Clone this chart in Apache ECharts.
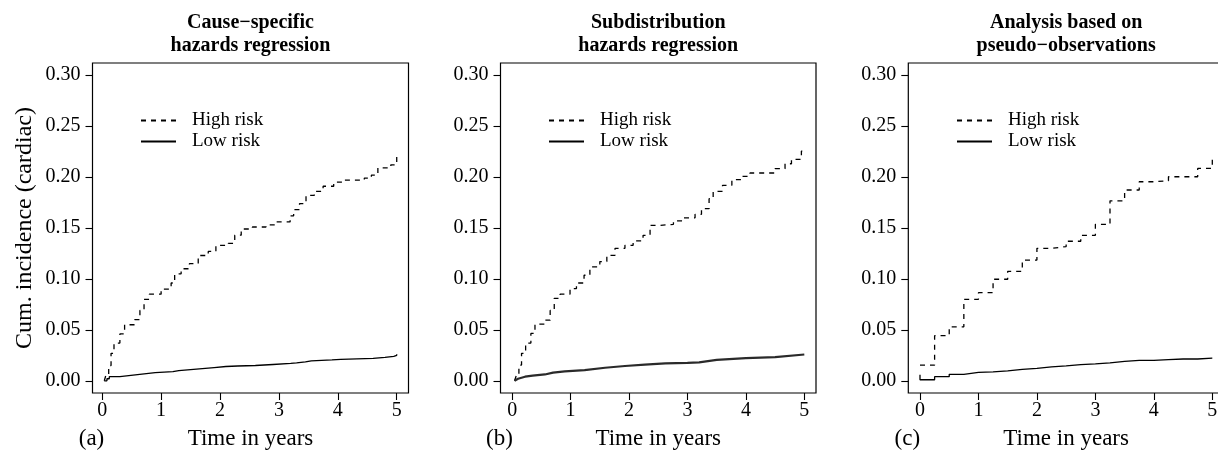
<!DOCTYPE html>
<html>
<head>
<meta charset="utf-8">
<script src="https://cdn.jsdelivr.net/npm/echarts@6/dist/echarts.min.js"></script>
<style>
html,body{margin:0;padding:0;background:#fff;}
#chart{width:1218px;height:450px;}
</style>
</head>
<body>
<div id="chart"></div>
<script>
// ---- data ----
const panelTitles = ['Cause\u2212specific\nhazards regression', 'Subdistribution\nhazards regression', 'Analysis based on\npseudo\u2212observations'];
const panelTags = ['(a)', '(b)', '(c)'];
const seriesNames = ['High risk', 'Low risk'];
const xTicks = [0, 1, 2, 3, 4, 5];
const yTicks = [0, 0.05, 0.10, 0.15, 0.20, 0.25, 0.30];
const xAxisTitle = 'Time in years';
const yAxisTitle = 'Cum. incidence (cardiac)';

// (a) cause-specific hazards regression
const csHighT = [0.035, 0.06, 0.11, 0.15, 0.20, 0.30, 0.38, 0.55, 0.64, 0.71, 0.80, 1.00, 1.17, 1.23, 1.34, 1.48, 1.63, 1.80, 1.93, 2.14, 2.25, 2.36, 2.55, 2.78, 2.93, 3.19, 3.25, 3.35, 3.46, 3.60, 3.75, 3.93, 4.10, 4.45, 4.57, 4.68, 4.90, 5.00];
const csHighV = [0.000, 0.005, 0.015, 0.027, 0.037, 0.046, 0.055, 0.060, 0.069, 0.080, 0.085, 0.090, 0.096, 0.105, 0.110, 0.115, 0.123, 0.127, 0.133, 0.135, 0.143, 0.149, 0.151, 0.153, 0.156, 0.162, 0.168, 0.174, 0.182, 0.186, 0.191, 0.195, 0.197, 0.199, 0.202, 0.209, 0.212, 0.221];
const csLowT = [0.035, 0.08, 0.12, 0.30, 0.45, 0.60, 0.75, 0.90, 1.20, 1.30, 1.50, 1.70, 1.90, 2.10, 2.30, 2.60, 2.90, 3.20, 3.30, 3.45, 3.55, 3.90, 4.05, 4.60, 4.80, 4.95, 5.00];
const csLowV = [0.000, 0.002, 0.004, 0.005, 0.006, 0.007, 0.008, 0.009, 0.010, 0.011, 0.012, 0.013, 0.014, 0.0145, 0.015, 0.016, 0.017, 0.0175, 0.0185, 0.0195, 0.0205, 0.021, 0.022, 0.023, 0.024, 0.025, 0.026];

// (b) subdistribution hazards regression
const sdHighT = [0.04, 0.07, 0.115, 0.16, 0.23, 0.32, 0.39, 0.56, 0.65, 0.72, 0.82, 0.99, 1.10, 1.23, 1.33, 1.50, 1.62, 1.76, 1.93, 2.07, 2.24, 2.36, 2.53, 2.76, 2.93, 3.13, 3.24, 3.37, 3.44, 3.60, 3.76, 3.93, 4.07, 4.50, 4.67, 4.78, 4.95, 5.00];
const sdHighV = [0.000, 0.005, 0.0154, 0.027, 0.037, 0.0465, 0.0556, 0.0595, 0.069, 0.081, 0.085, 0.0905, 0.096, 0.1036, 0.1118, 0.117, 0.1232, 0.130, 0.133, 0.1373, 0.1428, 0.1526, 0.1536, 0.157, 0.160, 0.1634, 0.169, 0.1788, 0.186, 0.1919, 0.1974, 0.2007, 0.204, 0.2082, 0.2131, 0.2174, 0.2255, 0.227];
const sdLowT = [0.04, 0.10, 0.22, 0.35, 0.56, 0.70, 0.90, 1.24, 1.59, 1.93, 2.27, 2.62, 3.00, 3.20, 3.50, 4.00, 4.50, 5.00];
const sdLowV = [0.000, 0.002, 0.004, 0.005, 0.0062, 0.008, 0.0092, 0.0105, 0.0128, 0.0145, 0.0158, 0.017, 0.0175, 0.018, 0.0205, 0.0222, 0.0232, 0.0258];

// (c) pseudo-observations
const poHighT = [0, 0.25, 0.5, 0.75, 1.0, 1.25, 1.5, 1.75, 2.0, 2.25, 2.5, 2.75, 3.0, 3.25, 3.5, 3.75, 4.0, 4.25, 4.5, 4.75, 5.0];
const poHighV = [0.0154, 0.0443, 0.053, 0.080, 0.0865, 0.0997, 0.1075, 0.1185, 0.130, 0.1318, 0.137, 0.1428, 0.1536, 0.1767, 0.1873, 0.1954, 0.1964, 0.2003, 0.2003, 0.2085, 0.220];
const poLowT = [0, 0, 0.25, 0.5, 0.75, 1.0, 1.25, 1.5, 1.75, 2.0, 2.25, 2.5, 2.75, 3.0, 3.25, 3.5, 3.75, 4.0, 4.25, 4.5, 4.75, 5.0];
const poLowV = [0.0058, 0.001, 0.004, 0.0063, 0.0082, 0.0088, 0.0098, 0.0112, 0.0122, 0.0137, 0.0147, 0.0158, 0.0166, 0.0175, 0.019, 0.0200, 0.0200, 0.0207, 0.0214, 0.0214, 0.0222, 0.0228];

// ---- layout / style ----
const FONT = '"Liberation Serif", "Times New Roman", serif';
const zip = (t, v) => t.map((x, i) => [x, v[i]]);
const panels = [
  { left: 92.5, width: 316, xmin: -0.165, xmax: 5.2, legendLeft: 140,
    high: zip(csHighT, csHighV), low: zip(csLowT, csLowV), lowStep: 'end', lowWidth: 1.3, lowColor: '#000' },
  { left: 500.5, width: 315.5, xmin: -0.2, xmax: 5.2, legendLeft: 548,
    high: zip(sdHighT, sdHighV), low: zip(sdLowT, sdLowV), lowStep: false, lowWidth: 2.2, lowColor: '#2a2a2a' },
  { left: 908.3, width: 315.7, xmin: -0.2, xmax: 5.2, legendLeft: 956,
    high: zip(poHighT, poHighV), low: zip(poLowT, poLowV), lowStep: 'end', lowWidth: 1.3, lowColor: '#000' }
];
const GRID_TOP = 63, GRID_H = 330;

const grid = [], xAxis = [], yAxis = [], series = [], legend = [], graphic = [];
panels.forEach((p, i) => {
  grid.push({ left: p.left, top: GRID_TOP, width: p.width, height: GRID_H,
    outerBoundsMode: 'none', containLabel: false,
    show: true, borderColor: '#000', borderWidth: 1.2, backgroundColor: 'transparent' });
  xAxis.push({
    type: 'value', gridIndex: i, min: p.xmin, max: p.xmax, position: 'bottom',
    axisLine: { show: false, onZero: false },
    axisTick: { show: true, inside: false, length: 7, customValues: xTicks, lineStyle: { color: '#000', width: 1.1 } },
    axisLabel: { customValues: xTicks, margin: 8, fontFamily: FONT, fontSize: 20, color: '#000',
      formatter: v => String(Math.round(v)) },
    splitLine: { show: false },
    name: xAxisTitle, nameLocation: 'middle', nameGap: 34,
    nameTextStyle: { fontFamily: FONT, fontSize: 23, color: '#000' }
  });
  const ya = {
    type: 'value', gridIndex: i, min: -0.012, max: 0.312, position: 'left',
    axisLine: { show: false, onZero: false },
    axisTick: { show: true, inside: false, length: 7, customValues: yTicks, lineStyle: { color: '#000', width: 1.1 } },
    axisLabel: { customValues: yTicks, margin: 12, fontFamily: FONT, fontSize: 20, color: '#000',
      formatter: v => v.toFixed(2) },
    splitLine: { show: false }
  };
  if (i === 0) {
    Object.assign(ya, { name: yAxisTitle, nameLocation: 'middle', nameGap: 56,
      nameTextStyle: { fontFamily: FONT, fontSize: 24, color: '#000' } });
  }
  yAxis.push(ya);
  series.push({
    name: seriesNames[0], type: 'line', xAxisIndex: i, yAxisIndex: i, data: p.high,
    step: 'end', symbol: 'none', showSymbol: false,
    lineStyle: { color: '#000', width: 1.3, type: [5, 5] }, itemStyle: { color: '#000' }
  });
  series.push({
    name: seriesNames[1], type: 'line', xAxisIndex: i, yAxisIndex: i, data: p.low,
    step: p.lowStep, symbol: 'none', showSymbol: false,
    lineStyle: { color: p.lowColor, width: p.lowWidth, type: 'solid' }, itemStyle: { color: '#000' }
  });
  legend.push({
    data: seriesNames, orient: 'vertical', left: p.legendLeft, top: 111, padding: 0,
    itemWidth: 35, itemHeight: 14, itemGap: 2, selectedMode: false,
    itemStyle: { opacity: 0, color: 'transparent', borderWidth: 0 },
    textStyle: { fontFamily: FONT, fontSize: 19, color: '#000', padding: [0, 0, 0, 11] }
  });
  const cx = p.left + p.width / 2;
  graphic.push({
    type: 'text', x: cx, y: 34, silent: true,
    style: { text: panelTitles[i], font: 'bold 20px ' + FONT, fill: '#000',
      align: 'center', verticalAlign: 'middle', textAlign: 'center', textVerticalAlign: 'middle', lineHeight: 23 }
  });
  graphic.push({
    type: 'text', x: p.left - 1, y: 439, silent: true,
    style: { text: panelTags[i], font: '23px ' + FONT, fill: '#000',
      align: 'center', verticalAlign: 'middle', textAlign: 'center', textVerticalAlign: 'middle' }
  });
});

const chart = echarts.init(document.getElementById('chart'), null, { renderer: 'canvas' });
chart.setOption({
  backgroundColor: '#fff',
  animation: false,
  grid, xAxis, yAxis, series, legend, graphic
});
</script>
</body>
</html>
